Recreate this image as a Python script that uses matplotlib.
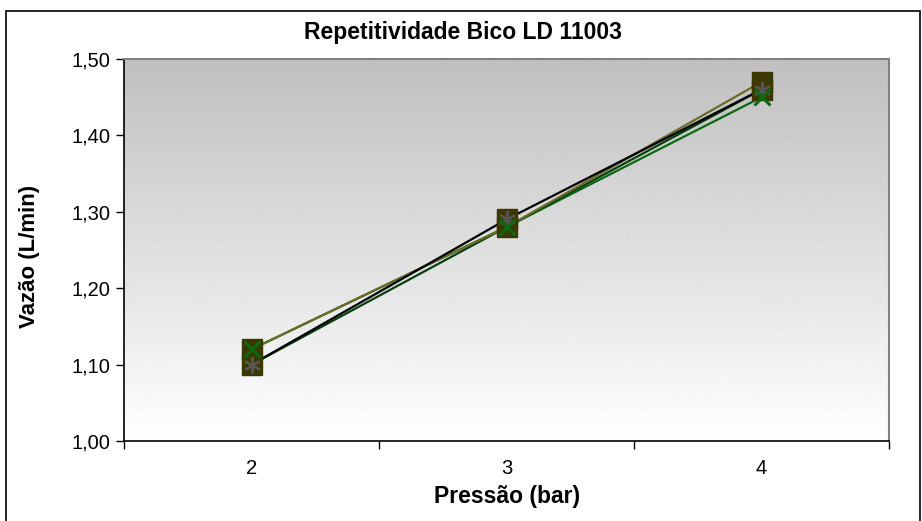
import numpy as np
import matplotlib
matplotlib.use("Agg")
import matplotlib.pyplot as plt
from matplotlib.patches import Rectangle
from matplotlib.ticker import FixedLocator, FuncFormatter

plt.rcParams['font.family'] = ['Liberation Sans', 'DejaVu Sans']

# --- data ---
pressures = ["2", "3", "4"]
rep1 = [1.12, 1.28, 1.47]
rep2 = [1.10, 1.29, 1.46]
rep3 = [1.12, 1.28, 1.45]
rep4 = [1.10, 1.28, 1.46]

fig = plt.figure(figsize=(9.22, 5.21), dpi=100)
fig.patch.set_facecolor("white")

# outer chart border
fig.add_artist(Rectangle((6 / 922, -0.01), 914 / 922, 1 - 11 / 521 + 0.01,
                         transform=fig.transFigure, fill=False,
                         edgecolor="black", linewidth=1.2))

ax = fig.add_axes([124 / 922, (521 - 441) / 521, 765 / 922, 382 / 521])

# gradient background (gray on top, white at bottom)
grad = np.linspace(0.75, 1.0, 256).reshape(-1, 1)
ax.imshow(grad, extent=[0, 1, 0, 1], transform=ax.transAxes, cmap="gray",
          vmin=0, vmax=1, aspect="auto", origin="upper", zorder=0)

x = np.arange(len(pressures))
sq = dict(marker="s", markersize=14, markerfacecolor="#3c3800",
          markeredgecolor="#3c3800")
ax.plot(x, rep1, color="#6b6b2a", linewidth=1.6, zorder=3, **sq)
ax.plot(x, rep2, color="black", linewidth=1.6, zorder=3, **sq)
ax.plot(x, rep3, color="#0a6a12", linewidth=1.6, zorder=2)
ax.plot(x, rep4, color="#064010", linewidth=1.6, zorder=2)
ax.plot(x, rep2, linestyle="none", marker=(6, 2, 0), markersize=12,
        markeredgewidth=1.6, markeredgecolor="#555555", zorder=4)
ax.plot(x, rep3, linestyle="none", marker="x", markersize=11,
        markeredgewidth=2.2, markeredgecolor="#0a6a12", zorder=4)

ax.set_xlim(-0.5, 2.5)
ax.set_ylim(1.0, 1.5)

ax.xaxis.set_major_locator(FixedLocator([-0.5, 0.5, 1.5, 2.5]))
ax.xaxis.set_major_formatter(FuncFormatter(lambda v, p: ""))
ax.set_xticks(x, minor=True)
ax.set_xticklabels(pressures, minor=True, fontsize=14.5)
ax.tick_params(axis="x", which="major", direction="out", length=6, width=1)
ax.tick_params(axis="x", which="minor", length=0, pad=13)

ax.set_yticks([1.0, 1.1, 1.2, 1.3, 1.4, 1.5])
ax.yaxis.set_major_formatter(FuncFormatter(lambda v, p: f"{v:.2f}".replace(".", ",")))
ax.tick_params(axis="y", direction="out", length=6, width=1, labelsize=14.5, pad=4)

for s in ["left", "bottom"]:
    ax.spines[s].set_color("black")
    ax.spines[s].set_linewidth(1.2)
for s in ["top", "right"]:
    ax.spines[s].set_color("#808080")
    ax.spines[s].set_linewidth(1.5)

fig.text(463 / 922, 1 - 33 / 521, "Repetitividade Bico LD 11003", ha="center",
         va="center", fontsize=16.5, fontweight="bold")
fig.text(507 / 922, 1 - 496 / 521, "Press\u00e3o (bar)", ha="center", va="center",
         fontsize=16.5, fontweight="bold")
fig.text(30 / 922, 1 - 256 / 521, "Vaz\u00e3o (L/min)", ha="center", va="center",
         rotation=90, fontsize=16, fontweight="bold")

fig.savefig("out.png", dpi=100)
